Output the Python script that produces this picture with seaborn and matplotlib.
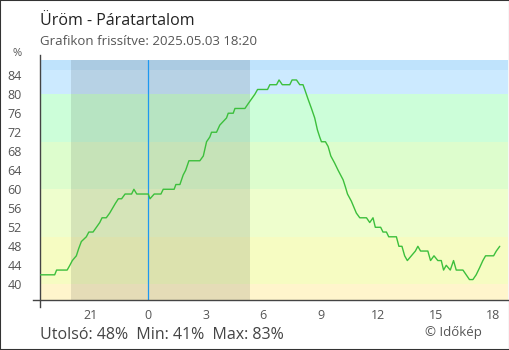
import matplotlib
matplotlib.use("Agg")
import matplotlib.pyplot as plt
import seaborn as sns
import pandas as pd
from matplotlib.patches import Rectangle

# ---- data (hours relative to midnight of 2025-05-03) ----
hours = [-5.62, -4.88, -4.78, -4.23, -4.09, -3.96, -3.75, -3.63, -3.49, -3.23,
         -3.10, -2.88, -2.53, -2.41, -2.19, -2.01, -1.72, -1.56, -1.39, -1.21,
         -0.87, -0.75, -0.60, 0.00, 0.09, 0.31, 0.66, 0.78, 1.35, 1.44,
         1.65, 1.82, 1.95, 2.12, 2.69, 2.87, 3.04, 3.21, 3.30, 3.56,
         3.73, 4.08, 4.17, 4.43, 4.52, 5.04, 5.21, 5.56, 5.70, 6.22,
         6.34, 6.69, 6.82, 6.99, 7.38, 7.50, 7.73, 7.90, 8.07, 8.16,
         8.33, 8.51, 8.68, 8.82, 8.94, 9.03, 9.24, 9.38, 9.52, 9.72,
         9.90, 10.16, 10.28, 10.39, 10.59, 10.85, 11.03, 11.38, 11.55, 11.72,
         11.84, 12.12, 12.24, 12.42, 12.54, 12.94, 13.07, 13.23, 13.37, 13.51,
         13.72, 13.93, 14.06, 14.20, 14.58, 14.72, 14.90, 15.10, 15.28, 15.40,
         15.54, 15.75, 15.92, 16.06, 16.41, 16.58, 16.75, 16.93, 17.10, 17.28,
         17.45, 17.59, 18.01, 18.15, 18.33]
humidity = [42, 42, 43, 43, 44, 45, 46, 47.5, 49, 50,
            51, 51, 53, 54, 54, 55, 57, 58, 58, 59,
            59, 60, 59, 59, 58, 59, 59, 60, 60, 61,
            61, 63, 64, 66, 66, 67, 70, 71, 72, 72,
            73.5, 75, 76, 76, 77, 77, 78, 80, 81, 81,
            82, 82, 83, 82, 82, 83, 83, 82, 82, 81,
            79, 77, 75, 72.5, 71, 70, 70, 69, 67, 65.5,
            64, 62, 60.5, 59, 57.5, 55, 54, 54, 53, 54,
            52, 52, 51, 51, 50, 50, 48, 48, 46, 45,
            46, 47, 48, 47, 47, 45, 46, 45, 45, 43,
            44, 43, 45, 43, 43, 42, 41, 41, 42, 43.5,
            45, 46, 46, 47, 48]

xtick_pos = [-3, 0, 3, 6, 9, 12, 15, 18]
xtick_labels = ["21", "0", "3", "6", "9", "12", "15", "18"]
ytick_vals = [40, 44, 48, 52, 56, 60, 64, 68, 72, 76, 80, 84]

band_edges = [0, 40, 50, 60, 70, 80, 85, 100]
band_colors = ["#fff5cc", "#f6fcc2", "#eefecd", "#ddfdcd", "#ccfed9", "#cceaff", "#bfe3fc"]

night_start, night_end = -4.03, 5.31

title = "Üröm - Páratartalom"
subtitle = "Grafikon frissítve: 2025.05.03 18:20"
footer = "Utolsó: 48%  Min: 41%  Max: 83%"
credit = "© Időkép"

df = pd.DataFrame({"hour": hours, "humidity": humidity})

sns.set_style("white")
plt.rcParams["font.family"] = ["Open Sans", "DejaVu Sans"]

W, H = 510, 350
fig = plt.figure(figsize=(W / 100, H / 100), dpi=100)
ax = fig.add_axes([40.5 / W, 1 - 300 / H, (508 - 40.5) / W, 240 / H])

xmin, xmax = -5.62, 18.76
ymin, ymax = 36.7, 87.2

for lo, hi, c in zip(band_edges[:-1], band_edges[1:], band_colors):
    ax.axhspan(lo, hi, color=c, lw=0, zorder=0)
ax.axvspan(night_start, night_end, color="black", alpha=0.1, lw=0, zorder=1)
ax.axvline(0, color="#1e98f0", lw=0.9, zorder=2)

sns.lineplot(data=df, x="hour", y="humidity", ax=ax, color="#3cbf3c",
             linewidth=1.0, zorder=3)

ax.set_xlim(xmin, xmax)
ax.set_ylim(ymin, ymax)
ax.set_xlabel("")
ax.set_ylabel("")
ax.set_xticks(xtick_pos)
ax.set_xticklabels(xtick_labels)
ax.set_yticks(ytick_vals)
ax.set_yticklabels([str(v) for v in ytick_vals])

for s in ["top", "right"]:
    ax.spines[s].set_visible(False)
for s in ["left", "bottom"]:
    ax.spines[s].set_color("#444444")
    ax.spines[s].set_linewidth(1.0)
ax.spines["left"].set_bounds(35.3, 88.25)
ax.spines["bottom"].set_bounds(-6.0, 18.76)

ax.tick_params(axis="both", direction="inout", length=9, width=1.0,
               color="#444444", labelcolor="#555555", labelsize=9)
ax.tick_params(axis="x", pad=2)
ax.tick_params(axis="y", pad=9)

def fx(px):
    return px / W

def fy(py):
    return 1 - py / H

fig.text(fx(40), fy(25), title, fontsize=11.5, color="#222222", va="baseline")
fig.text(fx(40), fy(45), subtitle, fontsize=9.5, color="#555555", va="baseline")
fig.text(fx(13), fy(56), "%", fontsize=8, color="#555555", va="baseline")
fig.text(fx(40), fy(339), footer, fontsize=11.5, color="#444444", va="baseline")
fig.text(fx(425), fy(336), credit, fontsize=9.5, color="#555555", va="baseline")

fig.patches.append(Rectangle((0, 0), 1, 1, transform=fig.transFigure,
                             fill=False, edgecolor="#333333", lw=1.5))

fig.savefig("out.png", dpi=100)
